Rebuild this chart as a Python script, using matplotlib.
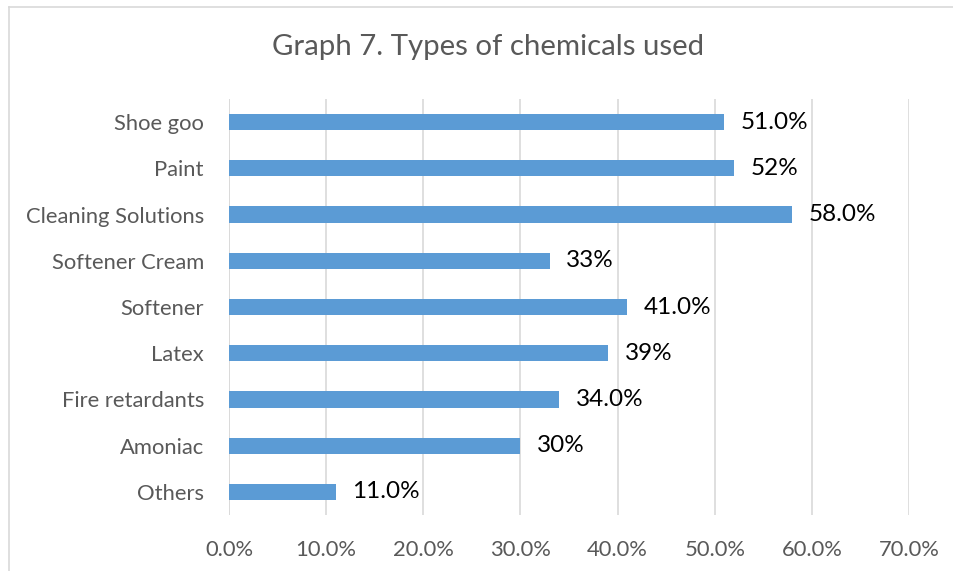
import matplotlib.pyplot as plt
from matplotlib.lines import Line2D

# chemicals, top to bottom as listed
categories = ['Shoe goo', 'Paint', 'Cleaning Solutions', 'Softener Cream',
              'Softener', 'Latex', 'Fire retardants', 'Amoniac', 'Others']
shares = [51.0, 52.0, 58.0, 33.0, 41.0, 39.0, 34.0, 30.0, 11.0]
label_decimals = [1, 0, 1, 0, 1, 0, 1, 0, 1]
ticks = [0, 10, 20, 30, 40, 50, 60, 70]

plt.rcParams['font.family'] = ['Lato', 'DejaVu Sans']

W, H = 954, 571
fig = plt.figure(figsize=(W / 100, H / 100), dpi=100)
fig.patch.set_facecolor('white')

# outer chart frame: only the top and left edges fall inside the canvas
frame_col = '#D9D9D9'
fig.add_artist(Line2D([9 / W, 1.0], [1 - 7 / H, 1 - 7 / H], color=frame_col, lw=1.2))
fig.add_artist(Line2D([9 / W, 9 / W], [0.0, 1 - 7 / H], color=frame_col, lw=1.2))

ax = fig.add_axes([229 / W, 1 - 515 / H, (909 - 229) / W, (515 - 99) / H])

y = list(range(len(categories)))
ax.barh(y, shares, height=0.35, color='#5B9BD5', zorder=3)

for yi, v, d in zip(y, shares, label_decimals):
    ax.annotate(f'{v:.{d}f}%', (v, yi), xytext=(12, 0), textcoords='offset points',
                va='center', ha='left', fontsize=17.5, color='black')

ax.set_xlim(0, 70)
ax.set_ylim(len(categories) - 0.5, -0.5)
ax.set_xticks(ticks)
ax.set_xticklabels([f'{t:.1f}%' for t in ticks])
ax.set_yticks(y)
ax.set_yticklabels(categories)

ax.grid(axis='x', color='#D9D9D9', lw=1.2, zorder=0)
ax.axvline(0, color='#D9D9D9', lw=1.2, zorder=1)
for s in ax.spines.values():
    s.set_visible(False)
ax.tick_params(axis='both', length=0, colors='#595959', labelsize=15.8)
ax.tick_params(axis='x', pad=18)
ax.tick_params(axis='y', pad=18)

fig.text(488 / W, 1 - 47 / H, 'Graph 7. Types of chemicals used', ha='center', va='center',
         fontsize=21.2, color='#595959')

fig.savefig('out.png', dpi=100)
